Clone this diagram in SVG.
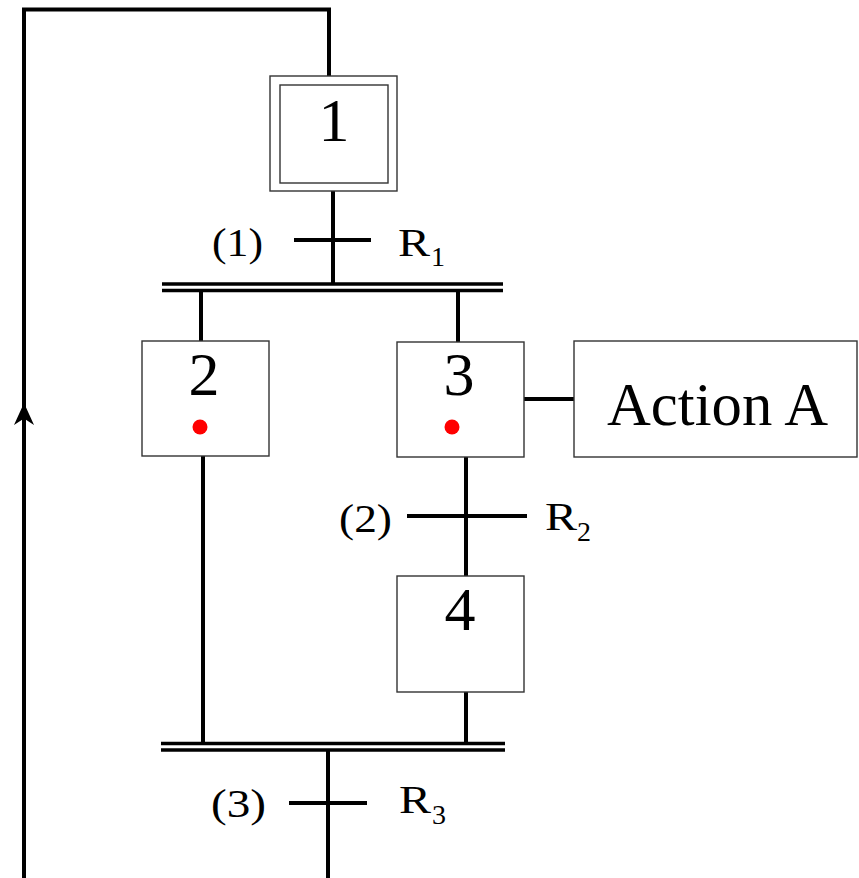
<svg xmlns="http://www.w3.org/2000/svg" width="859" height="878" viewBox="0 0 859 878">
<style>
.box{fill:#fff;stroke:#333;stroke-width:1.4}
.ln{fill:none;stroke:#000;stroke-width:4}
.bar{fill:none;stroke:#000;stroke-width:3.5}
.t{font-family:"Liberation Serif","Times New Roman",serif;fill:#000}
.num{font-size:62px;text-anchor:middle}
.lbl{font-size:41px}
.sub{font-size:28px}
.dot{fill:#ff0000}
</style>
<rect width="859" height="878" fill="#fff"/>
<g id="connectors">
<polyline class="ln" points="329,76 329,9.5 24,9.5 24,878"/>
<polygon points="24,403 34,425 24,418.5 14,425" fill="#000"/>
<line class="ln" x1="333" y1="191" x2="333" y2="284"/>
<line class="ln" x1="294" y1="240" x2="371" y2="240"/>
<line class="bar" x1="162" y1="284" x2="503" y2="284"/>
<line class="bar" x1="162" y1="290.5" x2="503" y2="290.5"/>
<line class="ln" x1="201" y1="291" x2="201" y2="341"/>
<line class="ln" x1="458" y1="291" x2="458" y2="342"/>
<line class="ln" x1="524" y1="399" x2="574" y2="399"/>
<line class="ln" x1="203" y1="456" x2="203" y2="743"/>
<line class="ln" x1="466" y1="457" x2="466" y2="576"/>
<line class="ln" x1="407" y1="516" x2="527" y2="516"/>
<line class="ln" x1="466" y1="692" x2="466" y2="743"/>
<line class="bar" x1="161" y1="743.5" x2="505" y2="743.5"/>
<line class="bar" x1="161" y1="750" x2="505" y2="750"/>
<line class="ln" x1="328" y1="750" x2="328" y2="878"/>
<line class="ln" x1="289" y1="803" x2="367" y2="803"/>
</g>
<g id="step1">
<rect class="box" x="270" y="76" width="127" height="115"/>
<rect class="box" x="280" y="85" width="108" height="98"/>
<text class="t num" x="334" y="141">1</text>
</g>
<g id="step2">
<rect class="box" x="142" y="341" width="127" height="115"/>
<text class="t num" x="204" y="395">2</text>
<circle class="dot" cx="200" cy="427" r="7.5"/>
</g>
<g id="step3">
<rect class="box" x="397" y="342" width="127" height="115"/>
<text class="t num" x="459" y="395">3</text>
<circle class="dot" cx="452" cy="427" r="7.5"/>
</g>
<g id="actionA">
<rect class="box" x="574" y="341" width="283" height="116"/>
<text class="t" x="607" y="425" font-size="62" textLength="221" lengthAdjust="spacingAndGlyphs">Action A</text>
</g>
<g id="step4">
<rect class="box" x="397" y="576" width="127" height="116"/>
<text class="t num" x="460" y="630">4</text>
</g>
<g id="labels">
<text class="t lbl" x="212" y="256" textLength="51" lengthAdjust="spacingAndGlyphs">(1)</text>
<text class="t lbl" x="398" y="256" textLength="32" lengthAdjust="spacingAndGlyphs">R</text>
<text class="t sub" x="431" y="266">1</text>
<text class="t lbl" x="339" y="532" textLength="53" lengthAdjust="spacingAndGlyphs">(2)</text>
<text class="t lbl" x="545" y="530" textLength="32" lengthAdjust="spacingAndGlyphs">R</text>
<text class="t sub" x="577" y="541">2</text>
<text class="t lbl" x="211" y="817" textLength="55" lengthAdjust="spacingAndGlyphs">(3)</text>
<text class="t lbl" x="399" y="813" textLength="32" lengthAdjust="spacingAndGlyphs">R</text>
<text class="t sub" x="432" y="824">3</text>
</g>
</svg>
